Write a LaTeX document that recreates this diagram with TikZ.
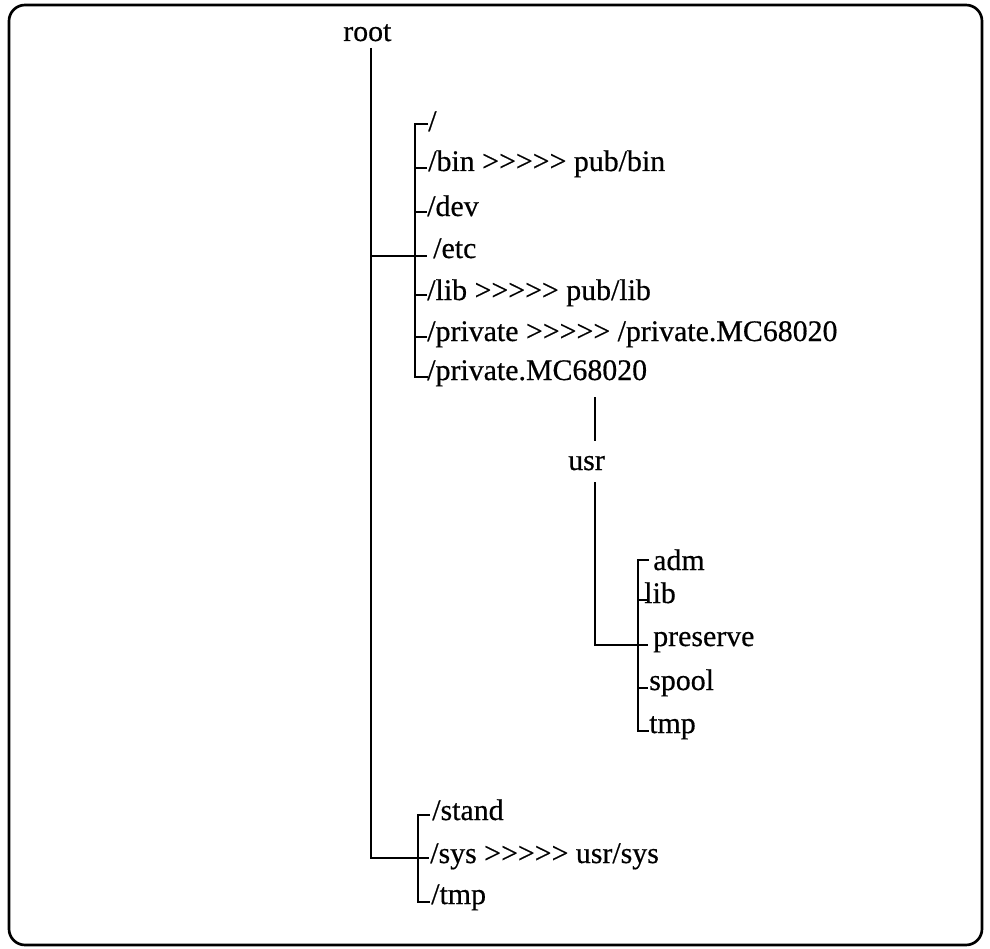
\documentclass[tikz,border=0pt]{standalone}
\usepackage{fontspec}
\setmainfont{Liberation Serif}[Ligatures=TeXOff, FakeBold=0.5]
\begin{document}
\begin{tikzpicture}[x=0.75pt,y=-0.75pt,
  lbl/.style={anchor=base west, inner sep=0pt, font=\fontsize{22.4}{26}\selectfont},
  tree/.style={line width=1.9pt, line cap=butt, line join=miter},
  frame/.style={line width=2pt, rounded corners=12pt}]
\useasboundingbox (0,0) rectangle (990,949);
\draw[frame] (9,5) rectangle (982,945);

% labels
\node[lbl] (root) at (343,41) {root};
\node[lbl] (n1) at (428,131) {/};
\node[lbl] (n2) at (428,171) {/bin >>>>> pub/bin};
\node[lbl] (n3) at (427,216) {/dev};
\node[lbl] (n4) at (433,258) {/etc};
\node[lbl] (n5) at (427,300) {/lib >>>>> pub/lib};
\node[lbl] (n6) at (427,341) {/private >>>>> /private.MC68020};
\node[lbl] (n7) at (427,380) {/private.MC68020};
\node[lbl] (usr) at (568,470) {usr};
\node[lbl] (u1) at (653,570) {adm};
\node[lbl] (u2) at (644,603) {lib};
\node[lbl] (u3) at (653,646) {preserve};
\node[lbl] (u4) at (649,690) {spool};
\node[lbl] (u5) at (649,733) {tmp};
\node[lbl] (s1) at (432,820) {/stand};
\node[lbl] (s2) at (430,863) {/sys >>>>> usr/sys};
\node[lbl] (s3) at (431,904) {/tmp};

% connector points
\coordinate (rtop) at (371,48);
\coordinate (rbot) at (371,858);
\coordinate (retc) at (371,256);
\coordinate (b1a) at (415,124);
\coordinate (b1b) at (415,377);
\coordinate (b3a) at (418,815);
\coordinate (b3b) at (418,902);
\coordinate (b3m) at (418,858);
\coordinate (ptop) at (595,397);
\coordinate (pbot) at (595,441);
\coordinate (utop) at (595,482);
\coordinate (ubot) at (595,645);
\coordinate (b2a) at (638,560);
\coordinate (b2b) at (638,731);
\coordinate (b2m) at (638,645);

% root trunk
\draw[tree] (rtop) -- (rbot) -- (b3m);
\draw[tree] (retc) -- (415,256);
% first bracket
\draw[tree] (428,124) -- (b1a) -- (b1b) -- (428,377);
\foreach \y in {168,212,256,295,337} \draw[tree] (415,\y) -- (427,\y);
% private.MC68020 -> usr
\draw[tree] (ptop) -- (pbot);
\draw[tree] (utop) -- (ubot) -- (b2m);
% usr bracket
\draw[tree] (649,560) -- (b2a) -- (b2b) -- (649,731);
\foreach \y in {600,645,688} \draw[tree] (638,\y) -- (648,\y);
% bottom bracket
\draw[tree] (430,815) -- (b3a) -- (b3b) -- (430,902);
\draw[tree] (b3m) -- (429,858);
\end{tikzpicture}
\end{document}
